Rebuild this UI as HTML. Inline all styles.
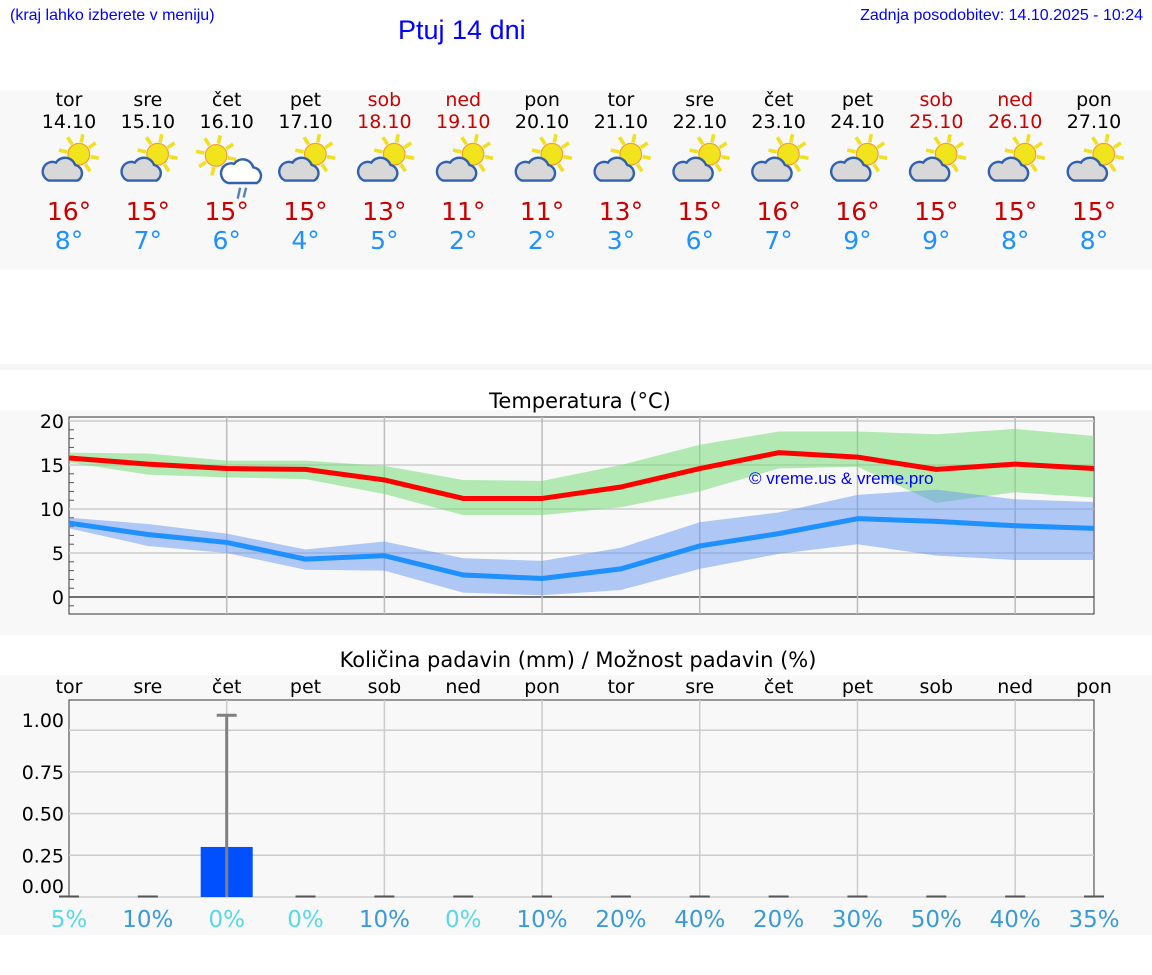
<!DOCTYPE html>
<html><head><meta charset="utf-8"><style>
body{margin:0;width:1152px;height:975px;background:#fff;font-family:"DejaVu Sans","Liberation Sans",sans-serif;position:relative;overflow:hidden}
.a{position:absolute}
</style></head><body>
<div class="a" style="left:10px;top:7px;font-size:16px;color:#00f;font-family:'Liberation Sans',sans-serif">(kraj lahko izberete v meniju)</div>
<div class="a" style="left:398px;top:15px;font-size:27px;color:#00f;font-family:'Liberation Sans',sans-serif">Ptuj 14 dni</div>
<div class="a" style="right:9px;top:7px;font-size:16px;color:#00f;font-family:'Liberation Sans',sans-serif">Zadnja posodobitev: 14.10.2025 - 10:24</div>
<div class="a" style="left:0;top:90px;width:1152px;height:180px;background:#f8f8f8"></div>
<div class="a" style="left:0;top:364px;width:1152px;height:6px;background:#f6f6f6"></div>
<div class="a" style="left:0;top:410px;width:1152px;height:225px;background:#f8f8f8"></div>
<div class="a" style="left:0;top:675px;width:1152px;height:260px;background:#f8f8f8"></div>
<div id="days"></div>
<svg class="a" style="left:0;top:0" width="1152" height="975" id="svg"></svg>
<script>
const dayNames=["tor","sre","čet","pet","sob","ned","pon","tor","sre","čet","pet","sob","ned","pon"];
const dates=["14.10","15.10","16.10","17.10","18.10","19.10","20.10","21.10","22.10","23.10","24.10","25.10","26.10","27.10"];
const weekend=[0,0,0,0,1,1,0,0,0,0,0,1,1,0];
const hiLabels=[16,15,15,15,13,11,11,13,15,16,16,15,15,15];
const loLabels=[8,7,6,4,5,2,2,3,6,7,9,9,8,8];
const rainy=[0,0,1,0,0,0,0,0,0,0,0,0,0,0];
const maxT=[15.8,15.1,14.6,14.5,13.3,11.2,11.2,12.5,14.6,16.4,15.9,14.5,15.1,14.6];
const minT=[8.4,7.1,6.2,4.3,4.7,2.5,2.1,3.2,5.8,7.2,8.9,8.6,8.1,7.8];
const maxHi=[16.4,16.3,15.5,15.5,14.9,13.3,13.2,15.0,17.3,18.8,18.8,18.5,19.1,18.3];
const maxLo=[15.3,13.9,13.6,13.4,11.7,9.3,9.3,10.2,12.0,14.6,14.8,10.7,11.9,11.3];
const minHi=[9.0,8.3,7.2,5.4,6.3,4.4,4.1,5.6,8.5,9.6,11.6,12.2,11.1,10.8];
const minLo=[7.8,5.8,5.0,3.1,3.0,0.5,0.2,0.8,3.2,4.9,6.0,4.7,4.2,4.2];
const tempTicks=[0,5,10,15,20];
const precip=[0,0,0.3,0,0,0,0,0,0,0,0,0,0,0];
const precipMax=[0,0,1.09,0,0,0,0,0,0,0,0,0,0,0];
const precipTicks=[0,0.25,0.5,0.75,1.0];
const chance=[5,10,0,0,10,0,10,20,40,20,30,50,40,35];

const X0=69,X1=1094;
const xd=i=>X0+i*(X1-X0)/13;
const yT=v=>597-v*8.8;
const yP=v=>897-v*166.8;
const NS="http://www.w3.org/2000/svg";
const svg=document.getElementById('svg');
function el(t,a,p){const e=document.createElementNS(NS,t);for(const k in a)e.setAttribute(k,a[k]);(p||svg).appendChild(e);return e;}

const days=document.getElementById('days');
for(let i=0;i<14;i++){
  const c=document.createElement('div');c.className='a';
  c.style.cssText=`left:${xd(i)-50}px;top:89px;width:100px;text-align:center;font-size:19px;line-height:22px;color:${weekend[i]?'#c00':'#000'}`;
  
  
  c.innerHTML=`${dayNames[i]}<br>${dates[i]}`;
  days.appendChild(c);
  const h=document.createElement('div');h.className='a';
  h.style.cssText=`left:${xd(i)-50}px;top:197px;width:100px;text-align:center;font-size:25px;color:#c00`;
  h.textContent=hiLabels[i]+'°';
  
  
  days.appendChild(h);
  const l=document.createElement('div');l.className='a';
  l.style.cssText=`left:${xd(i)-50}px;top:226px;width:100px;text-align:center;font-size:25px;color:#1e90ff`;
  l.textContent=loLabels[i]+'°';
  
  
  days.appendChild(l);
  const g=el('g',{transform:`translate(${xd(i)-25},135) scale(1.2)`});
  
  
  const sx=rainy[i]?12:29, sy=rainy[i]?17:16;
  for(let k=0;k<8;k++){const a=k*Math.PI/4+0.2;el('line',{x1:sx+Math.cos(a)*10,y1:sy+Math.sin(a)*10,x2:sx+Math.cos(a)*17,y2:sy+Math.sin(a)*17,stroke:'#f0e020','stroke-width':3},g);}
  el('circle',{cx:sx,cy:sy,r:9,fill:'#f2e41c',stroke:'#f0a030','stroke-width':1},g);
  if(rainy[i]){
    el('path',{d:'M22 40 h24 a7 7 0 0 0 -3 -13 a9 9 0 0 0 -16 -3 a7 7 0 0 0 -5 16z',fill:'#fff',stroke:'#3060b0','stroke-width':2},g);
    el('line',{x1:32,y1:44,x2:30,y2:53,stroke:'#5080c0','stroke-width':2},g);
    el('line',{x1:37,y1:44,x2:35,y2:52,stroke:'#5080c0','stroke-width':2},g);
  } else {
    el('path',{d:'M4 38 h24 a7 7 0 0 0 -2 -13 a9 9 0 0 0 -16 -2 a7 7 0 0 0 -6 15z',fill:'#d8d8d8',stroke:'#3060b0','stroke-width':2},g);
  }
}

el('text',{x:580,y:408,'text-anchor':'middle','font-size':21,fill:'#000'}).textContent='Temperatura (°C)';
el('rect',{x:X0,y:417,width:X1-X0,height:197,fill:'#f8f8f8',stroke:'#333','stroke-width':1});
for(const t of tempTicks){el('line',{x1:X0,x2:X1,y1:yT(t),y2:yT(t),stroke:t==0?'#444':'#ccc','stroke-width':1.5});
  el('text',{x:64,y:yT(t)+7,'text-anchor':'end','font-size':19,fill:'#000'}).textContent=t;}
for(let v=-1;v<=20;v++){if(v%5)el('line',{x1:X0,x2:X0+5,y1:yT(v),y2:yT(v),stroke:'#555'});}
for(let i=2;i<13;i+=2)el('line',{x1:xd(i),x2:xd(i),y1:417,y2:614,stroke:'#bbb','stroke-width':1.5});
function band(hi,lo,col,name){let d='M'+hi.map((v,i)=>xd(i)+' '+yT(v)).join('L')+'L'+lo.map((v,i)=>xd(i)+' '+yT(v)).reverse().join('L')+'Z';
  const p=el('path',{d,fill:col});}
band(maxHi,maxLo,'rgba(120,220,120,0.55)','max-temp-band');
band(minHi,minLo,'rgba(100,150,240,0.5)','min-temp-band');
function line(v,col,name){const p=el('polyline',{points:v.map((t,i)=>xd(i)+','+yT(t)).join(' '),fill:'none',stroke:col,'stroke-width':5,'stroke-linejoin':'round'});}
line(maxT,'#ff0000','max-temp-line');
line(minT,'#1e90ff','min-temp-line');
el('text',{x:749,y:484,'font-size':17,fill:'#00f','font-family':'Liberation Sans,sans-serif'}).textContent='© vreme.us & vreme.pro';

el('text',{x:578,y:667,'text-anchor':'middle','font-size':21,fill:'#000'}).textContent='Količina padavin (mm) / Možnost padavin (%)';
for(let i=0;i<14;i++){el('text',{x:xd(i),y:693,'text-anchor':'middle','font-size':19,fill:'#000'}).textContent=dayNames[i];
  el('text',{x:xd(i),y:927,'text-anchor':'middle','font-size':23,fill:chance[i]<10?'#5ad8e8':'#3a9ad8'}).textContent=chance[i]+'%';}
el('rect',{x:X0,y:700,width:X1-X0,height:197,fill:'#f8f8f8',stroke:'#333'});
for(const t of precipTicks){el('line',{x1:X0,x2:X1,y1:yP(t),y2:yP(t),stroke:'#ccc','stroke-width':1.5});
  const off=t>=1?-3:(t<=0?-4:7);
  el('text',{x:64,y:yP(t)+off,'text-anchor':'end','font-size':19,fill:'#000'}).textContent=t.toFixed(2);}
for(let i=2;i<13;i+=2)el('line',{x1:xd(i),x2:xd(i),y1:700,y2:897,stroke:'#ccc','stroke-width':1.5});
for(let i=0;i<14;i++){
  if(precip[i]>0){const b=el('rect',{x:xd(i)-26,y:yP(precip[i]),width:52,height:yP(0)-yP(precip[i]),fill:'#0050ff'});}
  if(precipMax[i]>0){el('line',{x1:xd(i),x2:xd(i),y1:yP(precipMax[i]),y2:yP(0),stroke:'#808080','stroke-width':3});
    el('line',{x1:xd(i)-10,x2:xd(i)+10,y1:yP(precipMax[i]),y2:yP(precipMax[i]),stroke:'#808080','stroke-width':3});}
  else el('line',{x1:xd(i)-10,x2:xd(i)+10,y1:896.5,y2:896.5,stroke:'#555','stroke-width':2});
}
</script>
</body></html>
